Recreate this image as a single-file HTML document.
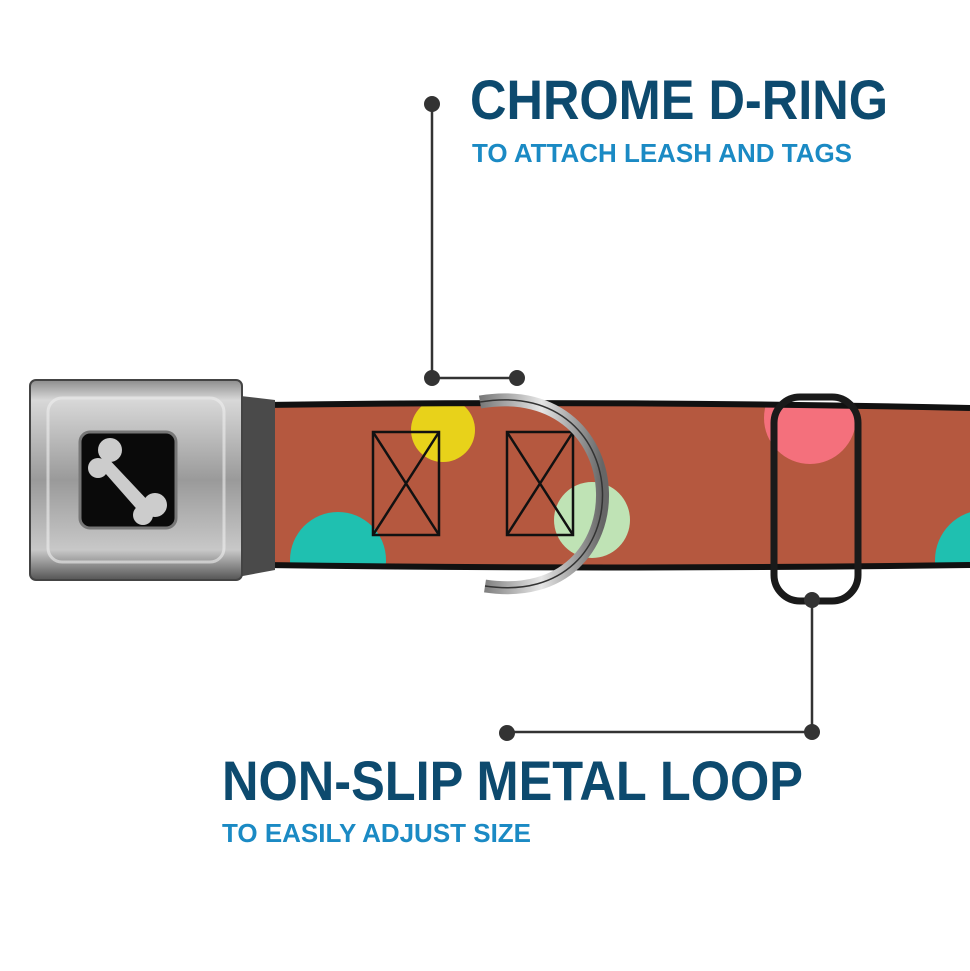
<!DOCTYPE html>
<html><head><meta charset="utf-8"><style>html,body{margin:0;padding:0;background:#fff}svg{display:block}</style></head>
<body>
<svg width="970" height="971" viewBox="0 0 970 971" xmlns="http://www.w3.org/2000/svg">
<defs>
<clipPath id="strap"><rect x="262" y="405" width="720" height="160"/></clipPath>
<linearGradient id="metal" x1="0" y1="0" x2="0" y2="1">
<stop offset="0" stop-color="#8d8d8d"/><stop offset="0.1" stop-color="#d8d8d8"/><stop offset="0.5" stop-color="#9a9a9a"/><stop offset="0.85" stop-color="#c8c8c8"/><stop offset="1" stop-color="#555"/></linearGradient>
<linearGradient id="ring" x1="0" y1="0" x2="1" y2="0"><stop offset="0" stop-color="#777"/><stop offset="0.5" stop-color="#e6e6e6"/><stop offset="1" stop-color="#666"/></linearGradient>
</defs>
<rect x="262" y="405" width="720" height="160" fill="#b5583f"/>
<g clip-path="url(#strap)">
<circle cx="443" cy="430" r="32" fill="#e8d21a"/>
<circle cx="338" cy="560" r="48" fill="#1fc0b0"/>
<circle cx="592" cy="520" r="38" fill="#bfe3b5"/>
<circle cx="810" cy="418" r="46" fill="#f4707c"/>
<circle cx="985" cy="560" r="50" fill="#1fc0b0"/>
</g>
<path d="M265 405 Q600 400 970 408" stroke="#111" stroke-width="6" fill="none"/>
<path d="M265 565 Q600 570 970 565" stroke="#111" stroke-width="6" fill="none"/>
<g stroke="#111" stroke-width="2.5" fill="none">
<rect x="373" y="432" width="66" height="103"/><path d="M373 432 L439 535 M439 432 L373 535"/>
<rect x="507" y="432" width="66" height="103"/><path d="M507 432 L573 535 M573 432 L507 535"/>
</g>
<path d="M232 395 L275 400 L275 570 L232 578 Z" fill="#4a4a4a"/>
<rect x="30" y="380" width="212" height="200" rx="6" fill="url(#metal)" stroke="#444" stroke-width="2"/>
<rect x="48" y="398" width="176" height="164" rx="14" fill="none" stroke="#eee" stroke-opacity="0.6" stroke-width="3"/>
<rect x="80" y="432" width="96" height="96" rx="10" fill="#0a0a0a" stroke="#777" stroke-width="3"/>
<g fill="#ccc">
<circle cx="110" cy="450" r="12"/><circle cx="98" cy="468" r="10"/>
<circle cx="155" cy="505" r="12"/><circle cx="143" cy="515" r="10"/>
<path d="M105 455 L152 505 L142 515 L98 465 Z"/>
</g>
<path d="M480 402 C640 375 645 610 485 586" stroke="url(#ring)" stroke-width="13" fill="none"/>
<path d="M480 402 C640 375 645 610 485 586" stroke="#333" stroke-width="1.5" fill="none"/>
<rect x="774" y="397" width="84" height="204" rx="26" fill="none" stroke="#1a1a1a" stroke-width="7"/>
<g stroke="#333" stroke-width="2.5" fill="none">
<path d="M432 104 V378 H517"/>
<path d="M812 600 V732 H507"/>
</g>
<g fill="#333">
<circle cx="432" cy="104" r="8"/><circle cx="432" cy="378" r="8"/><circle cx="517" cy="378" r="8"/>
<circle cx="812" cy="600" r="8"/><circle cx="812" cy="732" r="8"/><circle cx="507" cy="733" r="8"/>
</g>
<g font-family="Liberation Sans, sans-serif" font-weight="bold">
<text x="470" y="119" font-size="56" fill="#0d4a6e" textLength="418" lengthAdjust="spacingAndGlyphs">CHROME D-RING</text>
<text x="472" y="162" font-size="26" fill="#1b8ac4" textLength="380" lengthAdjust="spacingAndGlyphs">TO ATTACH LEASH AND TAGS</text>
<text x="222" y="800" font-size="56" fill="#0d4a6e" textLength="581" lengthAdjust="spacingAndGlyphs">NON-SLIP METAL LOOP</text>
<text x="222" y="842" font-size="26" fill="#1b8ac4" textLength="309" lengthAdjust="spacingAndGlyphs">TO EASILY ADJUST SIZE</text>
</g>
</svg>
</body></html>
